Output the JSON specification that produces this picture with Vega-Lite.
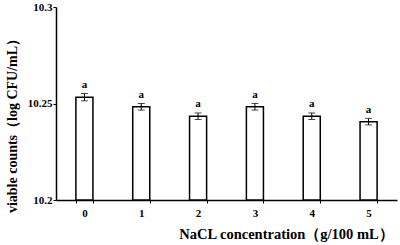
{
  "$schema": "https://vega.github.io/schema/vega-lite/v6.json",
  "autosize": "none",
  "width": 341,
  "height": 193,
  "padding": {"left": 56, "top": 7, "right": 3, "bottom": 45},
  "background": "white",
  "data": {
    "values": [
      {"c": "0", "v": 10.2533, "e": 0.0019, "g": "a"},
      {"c": "1", "v": 10.2483, "e": 0.0017, "g": "a"},
      {"c": "2", "v": 10.2434, "e": 0.0017, "g": "a"},
      {"c": "3", "v": 10.2483, "e": 0.0017, "g": "a"},
      {"c": "4", "v": 10.2434, "e": 0.0017, "g": "a"},
      {"c": "5", "v": 10.2406, "e": 0.0017, "g": "a"}
    ]
  },
  "config": {
    "view": {"stroke": null},
    "font": "Liberation Serif",
    "axis": {
      "domainColor": "black",
      "domainWidth": 1.5,
      "tickColor": "black",
      "tickWidth": 1,
      "grid": false,
      "labelFont": "Liberation Serif",
      "labelFontWeight": "bold",
      "labelFontSize": 11,
      "labelColor": "black",
      "titleFont": "Liberation Serif",
      "titleFontWeight": "bold",
      "titleFontSize": 14.5,
      "titleColor": "black"
    }
  },
  "encoding": {
    "x": {
      "field": "c",
      "type": "ordinal",
      "scale": {"paddingInner": 0.7, "paddingOuter": 0.35},
      "axis": {
        "title": "NaCL concentration（g/100 mL）",
        "labelAngle": 0,
        "tickBand": "extent",
        "tickSize": 3,
        "labelPadding": 4,
        "titleX": 230,
        "titleY": 34,
        "titleBaseline": "middle"
      }
    }
  },
  "layer": [
    {
      "mark": {"type": "bar", "fill": "white", "stroke": "black", "strokeWidth": 1.5},
      "encoding": {
        "y": {
          "field": "v",
          "type": "quantitative",
          "title": "viable counts（log CFU/mL）",
          "scale": {"domain": [10.2, 10.3], "zero": false, "nice": false},
          "axis": {
            "values": [10.2, 10.25, 10.3],
            "format": ".2~f",
            "tickSize": 3,
            "labelPadding": 1,
            "titleFontSize": 14,
            "titleBaseline": "middle",
            "titleX": -44,
            "titleY": 115
          }
        },
        "y2": {"datum": 10.2}
      }
    },
    {
      "mark": {
        "type": "errorbar",
        "color": "black",
        "ticks": {"size": 7, "color": "black"},
        "rule": {"color": "black", "strokeWidth": 1}
      },
      "encoding": {
        "y": {"field": "v", "type": "quantitative", "title": "viable counts（log CFU/mL）"},
        "yError": {"field": "e"}
      }
    },
    {
      "mark": {"type": "text", "dy": -12, "fontWeight": "bold", "fontSize": 11, "font": "Liberation Serif", "color": "black", "baseline": "middle"},
      "encoding": {
        "y": {"field": "v", "type": "quantitative", "title": "viable counts（log CFU/mL）"},
        "text": {"field": "g"}
      }
    }
  ]
}
